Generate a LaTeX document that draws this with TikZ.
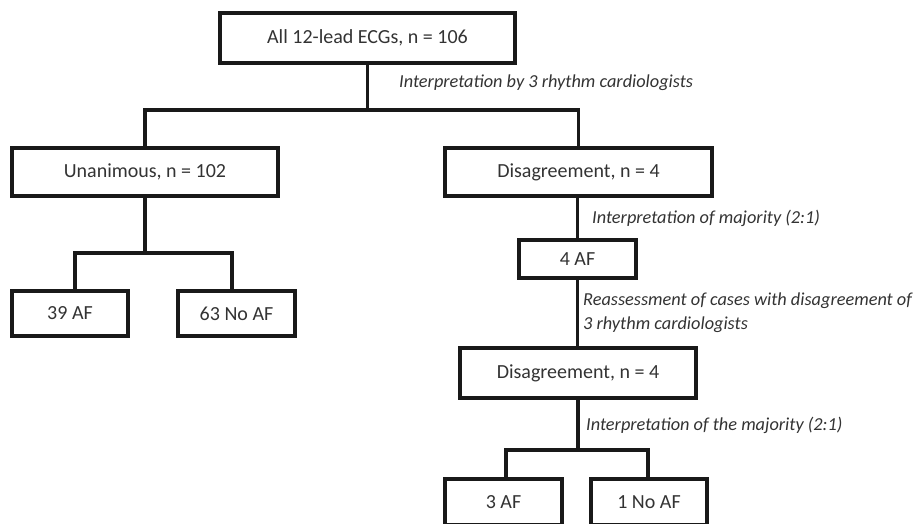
\documentclass[tikz,border=0pt]{standalone}
\usepackage{fontspec}
\setmainfont{Carlito}
\begin{document}
\begin{tikzpicture}[x=1pt,y=-1pt,
  box/.style={draw=black!90, line width=3.3pt, minimum width=#1, inner sep=0pt, font=\fontsize{20}{24}\selectfont, text=black!80},
  lbl/.style={anchor=west, inner sep=0pt, font=\fontsize{18.3}{24}\selectfont\itshape, text=black!80, align=left},
  conn/.style={draw=black!90, line width=3.3pt}]
\useasboundingbox (0,0) rectangle (919,524);
\clip (0,0) rectangle (919,524);
\fill[white] (0,0) rectangle (919,524);
\node[box=295pt, minimum height=50pt] (top) at (367.5,38) {All 12-lead ECGs, n = 106};
\node[box=266pt, minimum height=48pt] (unan) at (145,172) {Unanimous, n = 102};
\node[box=267pt, minimum height=48pt] (dis1) at (578.5,172) {Disagreement, n = 4};
\node[box=116pt, minimum height=45pt] (af39) at (70,313.5) {39 AF};
\node[box=117pt, minimum height=45pt] (noaf63) at (236.5,313.5) {63 No AF};
\node[box=117pt, minimum height=38pt] (af4) at (577.5,259) {4 AF};
\node[box=236pt, minimum height=50pt] (dis2) at (578,373) {Disagreement, n = 4};
\node[box=117pt, minimum height=46pt] (af3) at (503.5,502) {3 AF};
\node[box=116pt, minimum height=46pt] (noaf1) at (649,502) {1 No AF};

\coordinate (j1) at (367.5,110);
\coordinate (j2) at (145,253);
\coordinate (j3) at (578,450);

\draw[conn] (top.south) -- (j1);
\draw[conn] (unan.north) |- (j1) -| (dis1.north);
\draw[conn] (unan.south) -- (j2);
\draw[conn] ([xshift=5pt]af39.north) |- (j2) -| ([xshift=-4.5pt]noaf63.north);
\draw[conn] (af4.north |- dis1.south) -- (af4.north);
\draw[conn] (af4.south) -- (af4.south |- dis2.north);
\draw[conn] (dis2.south) -- (j3);
\draw[conn] ([xshift=2.5pt]af3.north) |- (j3) -| ([xshift=-1pt]noaf1.north);

\node[lbl] (l1) at (399,83) {Interpretation by 3 rhythm cardiologists};
\node[lbl] (l2) at (592,218) {Interpretation of majority (2:1)};
\node[lbl] (l3) at (583,313) {Reassessment of cases with disagreement of\\3 rhythm cardiologists};
\node[lbl] (l4) at (586,425) {Interpretation of the majority (2:1)};
\end{tikzpicture}
\end{document}
